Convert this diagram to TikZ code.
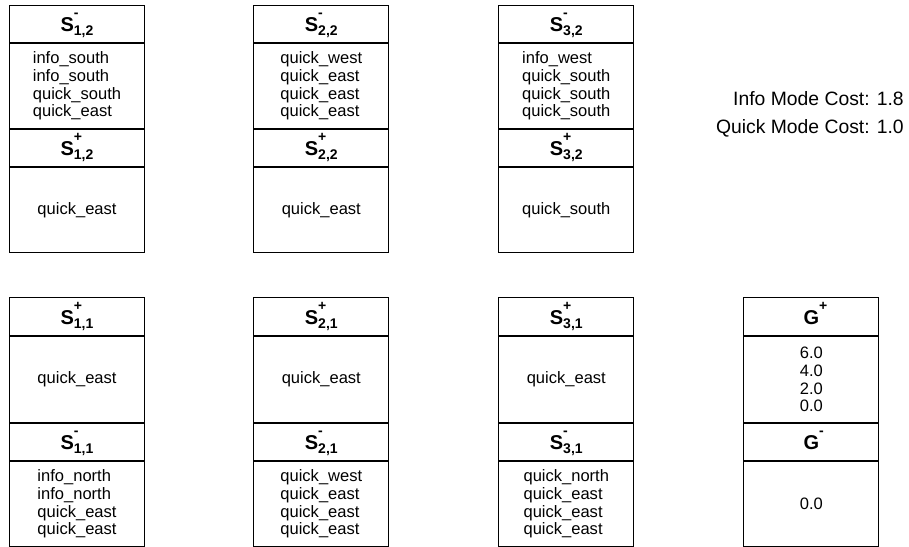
\documentclass[tikz,border=0pt]{standalone}
\usepackage{fontspec}
\setmainfont{Liberation Sans}
\newcommand\hd[3]{\fontsize{15}{18}\selectfont\textbf{#1}\rlap{\raisebox{10.4pt}{\fontsize{10.5}{12}\selectfont\textbf{#2}}}\raisebox{-3pt}{\fontsize{10.5}{12}\selectfont\textbf{#3}}}
\tikzset{
  sec/.style={draw=black, line width=0.75pt, minimum width=101.25pt, inner sep=0pt, anchor=north west},
  hdcell/.style={sec, text height=11.25pt, text depth=0pt},
  txcell/.style={sec, align=left, font=\fontsize{12.4}{13.35}\selectfont},
  hA/.style={minimum height=27.75pt},
  hB/.style={minimum height=28.5pt},
  cA/.style={minimum height=63.75pt},
  cB/.style={minimum height=64.5pt},
  note/.style={anchor=base east, inner sep=0pt, font=\fontsize{14.5}{17}\selectfont}
}
\begin{document}
\begin{tikzpicture}[x=0.75pt, y=-0.75pt]
\fill[white] (0,0) rectangle (909,546);
\useasboundingbox (0,0) rectangle (909,546);

% ---- top row ----
\node[hdcell, hA] (s12m) at (9,5) {\hd{S}{-}{1,2}};
\node[txcell, cA] (s12mL) at (s12m.south west) {info\_south\\info\_south\\quick\_south\\quick\_east};
\node[hdcell, hA] (s12p) at (s12mL.south west) {\hd{S}{+}{1,2}};
\node[txcell, cA] (s12pL) at (s12p.south west) {quick\_east};

\node[hdcell, hA] (s22m) at (253.3,5) {\hd{S}{-}{2,2}};
\node[txcell, cA] (s22mL) at (s22m.south west) {quick\_west\\quick\_east\\quick\_east\\quick\_east};
\node[hdcell, hA] (s22p) at (s22mL.south west) {\hd{S}{+}{2,2}};
\node[txcell, cA] (s22pL) at (s22p.south west) {quick\_east};

\node[hdcell, hA] (s32m) at (498.3,5) {\hd{S}{-}{3,2}};
\node[txcell, cA] (s32mL) at (s32m.south west) {info\_west\\quick\_south\\quick\_south\\quick\_south};
\node[hdcell, hA] (s32p) at (s32mL.south west) {\hd{S}{+}{3,2}};
\node[txcell, cA] (s32pL) at (s32p.south west) {quick\_south};

% ---- bottom row ----
\node[hdcell, hB] (s11p) at (9,297) {\hd{S}{+}{1,1}};
\node[txcell, cB] (s11pL) at (s11p.south west) {quick\_east};
\node[hdcell, hA] (s11m) at (s11pL.south west) {\hd{S}{-}{1,1}};
\node[txcell, cA] (s11mL) at (s11m.south west) {info\_north\\info\_north\\quick\_east\\quick\_east};

\node[hdcell, hB] (s21p) at (253.3,297) {\hd{S}{+}{2,1}};
\node[txcell, cB] (s21pL) at (s21p.south west) {quick\_east};
\node[hdcell, hA] (s21m) at (s21pL.south west) {\hd{S}{-}{2,1}};
\node[txcell, cA] (s21mL) at (s21m.south west) {quick\_west\\quick\_east\\quick\_east\\quick\_east};

\node[hdcell, hB] (s31p) at (498.3,297) {\hd{S}{+}{3,1}};
\node[txcell, cB] (s31pL) at (s31p.south west) {quick\_east};
\node[hdcell, hA] (s31m) at (s31pL.south west) {\hd{S}{-}{3,1}};
\node[txcell, cA] (s31mL) at (s31m.south west) {quick\_north\\quick\_east\\quick\_east\\quick\_east};

\node[hdcell, hB] (gp) at (743.3,297) {\hd{G}{+}{}};
\node[txcell, cB] (gpL) at (gp.south west) {6.0\\4.0\\2.0\\0.0};
\node[hdcell, hA] (gm) at (gpL.south west) {\hd{G}{-}{}};
\node[txcell, cA] (gmL) at (gm.south west) {0.0};

% ---- costs ----
\node[note] (info) at (904,105) {Info Mode Cost: 1.8};
\node[note] (quick) at (904,133.3) {Quick Mode Cost: 1.0};
\end{tikzpicture}
\end{document}
